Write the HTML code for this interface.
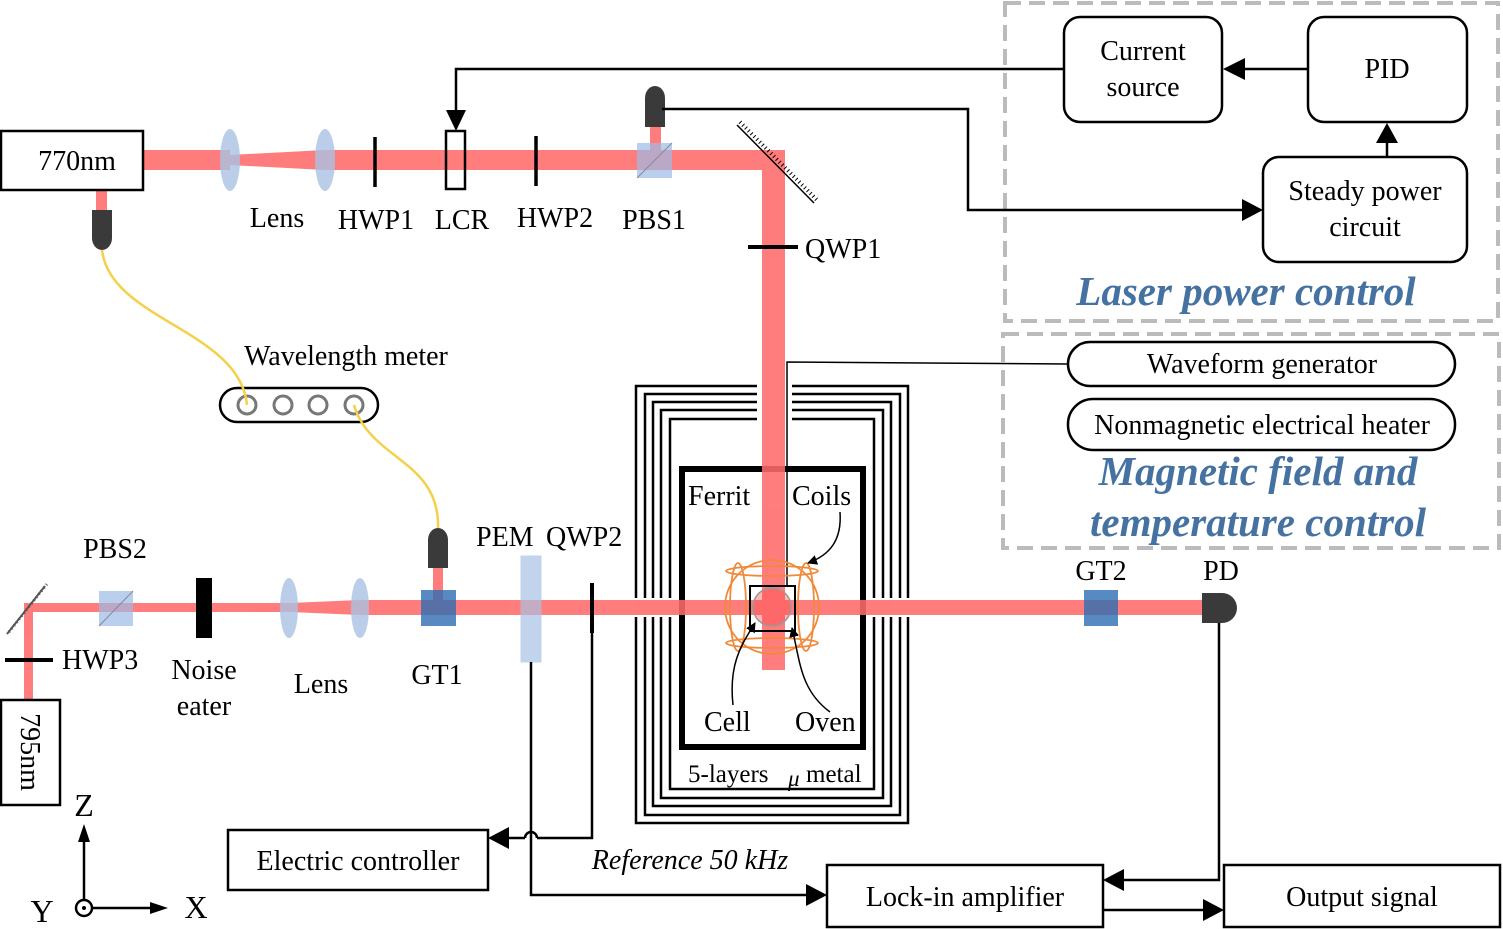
<!DOCTYPE html>
<html><head><meta charset="utf-8"><style>
html,body{margin:0;padding:0;background:#fff;}
svg{display:block;}
text{font-family:"Liberation Serif","Times New Roman",serif;fill:#000;}
</style></head><body>
<svg width="1503" height="929" viewBox="0 0 1503 929" xmlns="http://www.w3.org/2000/svg" font-family="Liberation Serif, serif">
<defs>
<marker id="ar" markerWidth="10" markerHeight="10" refX="9" refY="5" orient="auto" markerUnits="userSpaceOnUse"><path d="M0,0 L10,5 L0,10 z" fill="#000"/></marker>
</defs>

<rect x="1005" y="3" width="493" height="318" fill="none" stroke="#bbb" stroke-width="4" stroke-dasharray="16,8"/>
<rect x="1003" y="334" width="496" height="214" fill="none" stroke="#bbb" stroke-width="4" stroke-dasharray="16,8"/>

<g fill="none" stroke="#000" stroke-width="2.5">
<path d="M757,386 H636 V598 M636,617 V823 H908 V617 M908,598 V386 H792"/>
<path d="M757,394 H645 V598 M645,617 V815 H900 V617 M900,598 V394 H792"/>
<path d="M757,402 H653 V598 M653,617 V806 H891 V617 M891,598 V402 H792"/>
<path d="M757,410 H661 V598 M661,617 V798 H883 V617 M883,598 V410 H792"/>
<path d="M757,419 H670 V598 M670,617 V789 H874 V617 M874,598 V419 H792"/>
</g>
<rect x="682" y="469" width="181" height="278" fill="none" stroke="#000" stroke-width="6"/>

<g fill="#ff6b6b" opacity="0.88">
<rect x="143" y="150" width="87" height="20"/>
<polygon points="230,155 325,150 325,170 230,165"/>
<rect x="325" y="150" width="460" height="20"/>
<rect x="762" y="150" width="23" height="520"/>
<rect x="650" y="125" width="11" height="25"/>
<rect x="96" y="190" width="11" height="20"/>
<rect x="24" y="603" width="266" height="9"/>
<polygon points="290,603 360,600 360,615 290,612"/>
<rect x="360" y="600" width="850" height="15"/>
<rect x="24" y="607" width="9" height="93"/>
<rect x="433" y="565" width="10" height="35"/>
</g>

<rect x="1" y="131" width="142" height="59" fill="#fff" stroke="#000" stroke-width="2.5"/>
<text x="77" y="170" font-size="28" text-anchor="middle">770nm</text>
<ellipse cx="230" cy="160" rx="10" ry="31" fill="#a9c2e3" opacity="0.8"/>
<ellipse cx="325" cy="160" rx="10" ry="31" fill="#a9c2e3" opacity="0.8"/>
<line x1="375" y1="137" x2="375" y2="187" stroke="#000" stroke-width="3.5"/>
<rect x="446" y="131" width="19" height="58" fill="none" stroke="#000" stroke-width="2.5"/>
<line x1="536" y1="136" x2="536" y2="186" stroke="#000" stroke-width="3.5"/>
<rect x="637" y="143" width="35" height="35" fill="#9dbbe6" opacity="0.7"/>
<line x1="637" y1="178" x2="672" y2="143" stroke="#889" stroke-width="1"/>
<line x1="737" y1="125" x2="814" y2="203" stroke="#000" stroke-width="1.5"/>
<line x1="737" y1="125" x2="814" y2="203" stroke="#000" stroke-width="4" stroke-dasharray="1,3" transform="translate(3,-3)"/>
<line x1="748" y1="247" x2="798" y2="247" stroke="#000" stroke-width="4"/>
<path d="M645,127 V98 A10,12 0 0 1 665,98 V127 Z" fill="#3a3a3a"/>
<path d="M92,210 V238 A10,12 0 0 0 112,238 V210 Z" fill="#3a3a3a"/>
<path d="M428,568 V540 A10,12 0 0 1 448,540 V568 Z" fill="#3a3a3a"/>

<g font-size="28">
<text x="277" y="227" text-anchor="middle">Lens</text>
<text x="376" y="229" text-anchor="middle">HWP1</text>
<text x="462" y="229" text-anchor="middle">LCR</text>
<text x="555" y="227" text-anchor="middle">HWP2</text>
<text x="654" y="229" text-anchor="middle">PBS1</text>
<text x="805" y="258">QWP1</text>
<text x="346" y="365" text-anchor="middle">Wavelength meter</text>
</g>

<rect x="220" y="388" width="158" height="34" rx="17" fill="#fff" stroke="#000" stroke-width="2.5"/>
<g fill="none" stroke="#777" stroke-width="3">
<circle cx="247" cy="405" r="9"/><circle cx="283" cy="405" r="9"/><circle cx="318" cy="405" r="9"/><circle cx="354" cy="405" r="9"/>
</g>
<path d="M102,250 C110,320 240,330 247,405" fill="none" stroke="#f5d04a" stroke-width="2.5"/>
<path d="M354,405 C370,460 440,460 438,528" fill="none" stroke="#f5d04a" stroke-width="2.5"/>

<g fill="none" stroke="#000" stroke-width="2.5">
<polyline points="1064,69 456,69 456,112" />
<line x1="1308" y1="69" x2="1244" y2="69"/>
<line x1="1387" y1="157" x2="1387" y2="142"/>
<polyline points="662,109 968,109 968,210 1243,210"/>
</g>
<path d="M446,110 L466,110 L456,131 Z" fill="#000"/>
<path d="M1245,58 L1245,80 L1223,69 Z" fill="#000"/>
<path d="M1376,143 L1398,143 L1387,123 Z" fill="#000"/>
<path d="M1242,199 L1242,221 L1263,210 Z" fill="#000"/>

<rect x="1064" y="17" width="158" height="105" rx="16" fill="#fff" stroke="#000" stroke-width="2.5"/>
<text x="1143" y="60" font-size="28" text-anchor="middle">Current</text>
<text x="1143" y="96" font-size="28" text-anchor="middle">source</text>
<rect x="1308" y="17" width="159" height="105" rx="16" fill="#fff" stroke="#000" stroke-width="2.5"/>
<text x="1387" y="78" font-size="28" text-anchor="middle">PID</text>
<rect x="1263" y="157" width="204" height="105" rx="16" fill="#fff" stroke="#000" stroke-width="2.5"/>
<text x="1365" y="200" font-size="28" text-anchor="middle">Steady power</text>
<text x="1365" y="236" font-size="28" text-anchor="middle">circuit</text>
<text x="1246" y="305" font-size="41" font-weight="bold" font-style="italic" text-anchor="middle" style="fill:#4672a2">Laser power control</text>

<rect x="1068" y="342" width="387" height="44" rx="22" fill="#fff" stroke="#000" stroke-width="2.5"/>
<text x="1262" y="373" font-size="28" text-anchor="middle">Waveform generator</text>
<rect x="1068" y="399" width="387" height="51" rx="25" fill="#fff" stroke="#000" stroke-width="2.5"/>
<text x="1262" y="434" font-size="28" text-anchor="middle">Nonmagnetic electrical heater</text>
<text x="1258" y="485" font-size="41" font-weight="bold" font-style="italic" text-anchor="middle" style="fill:#4672a2">Magnetic field and</text>
<text x="1258" y="536" font-size="41" font-weight="bold" font-style="italic" text-anchor="middle" style="fill:#4672a2">temperature control</text>

<polyline points="1068,364 787,362 787,586" fill="none" stroke="#000" stroke-width="1.5"/>

<g fill="none" stroke="#f08a3a" stroke-width="1.8">
<circle cx="772" cy="607" r="47"/>
<ellipse cx="738" cy="607" rx="8" ry="44"/>
<ellipse cx="806" cy="607" rx="8" ry="44"/>
<ellipse cx="772" cy="571" rx="46" ry="5"/>
<ellipse cx="772" cy="643" rx="46" ry="5"/>
</g>
<rect x="750" y="586" width="45" height="45" fill="none" stroke="#000" stroke-width="2"/>
<circle cx="772" cy="607" r="19" fill="#ff4a4a" fill-opacity="0.4" stroke="#999" stroke-width="1.5"/>
<g fill="none" stroke="#000" stroke-width="1.5">
<path d="M733,705 C728,660 745,640 755,623" marker-end="url(#ar)"/>
<path d="M830,712 C800,690 800,660 792,628" marker-end="url(#ar)"/>
<path d="M840,512 C842,540 830,555 808,563" marker-end="url(#ar)"/>
</g>
<g font-size="28">
<text x="688" y="505">Ferrit</text>
<text x="792" y="505">Coils</text>
<text x="704" y="731">Cell</text>
<text x="795" y="731">Oven</text>
<text x="688" y="782" font-size="25">5-layers</text>
<text x="788" y="786" font-size="23" font-style="italic">μ</text>
<text x="806" y="782" font-size="25">metal</text>
</g>

<rect x="1" y="700" width="59" height="105" fill="#fff" stroke="#000" stroke-width="2.5"/>
<text x="30" y="752" font-size="28" text-anchor="middle" transform="rotate(90 30 752)" dy="9">795nm</text>
<line x1="5" y1="660" x2="53" y2="660" stroke="#000" stroke-width="4"/>
<line x1="7" y1="634" x2="45" y2="586" stroke="#555" stroke-width="2"/>
<line x1="7" y1="634" x2="45" y2="586" stroke="#555" stroke-width="3" stroke-dasharray="1,3" transform="translate(2,-2)"/>
<rect x="99" y="591" width="34" height="35" fill="#9dbbe6" opacity="0.7"/>
<line x1="99" y1="626" x2="133" y2="591" stroke="#889" stroke-width="1"/>
<rect x="196" y="578" width="16" height="60" fill="#000"/>
<ellipse cx="289" cy="608" rx="9" ry="30" fill="#a9c2e3" opacity="0.8"/>
<ellipse cx="360" cy="608" rx="9" ry="30" fill="#a9c2e3" opacity="0.8"/>
<rect x="421" y="590" width="35" height="36" fill="#2e6db3" opacity="0.8"/>
<rect x="521" y="556" width="20" height="106" fill="#a9c2e3" opacity="0.7" stroke="#a9c2e3"/>
<line x1="592" y1="583" x2="592" y2="633" stroke="#000" stroke-width="4"/>
<rect x="1084" y="590" width="34" height="36" fill="#2e6db3" opacity="0.8"/>
<path d="M1202,593 H1222 A15,15 0 0 1 1222,623 H1202 Z" fill="#3a3a3a"/>

<g font-size="28">
<text x="115" y="558" text-anchor="middle">PBS2</text>
<text x="62" y="669">HWP3</text>
<text x="204" y="679" text-anchor="middle">Noise</text>
<text x="204" y="715" text-anchor="middle">eater</text>
<text x="321" y="693" text-anchor="middle">Lens</text>
<text x="437" y="684" text-anchor="middle">GT1</text>
<text x="476" y="546">PEM</text>
<text x="546" y="546">QWP2</text>
<text x="1101" y="580" text-anchor="middle">GT2</text>
<text x="1221" y="580" text-anchor="middle">PD</text>
</g>

<g fill="none" stroke="#000" stroke-width="2.5">
<polyline points="592,633 592,838 537,838"/>
<path d="M537,838 A6,6 0 0 0 525,838"/>
<line x1="525" y1="838" x2="508" y2="838"/>
<polyline points="531,662 531,895 806,895"/>
<polyline points="1219,623 1219,880 1124,880"/>
<line x1="1103" y1="910" x2="1203" y2="910"/>
</g>
<path d="M509,827 L509,849 L488,838 Z" fill="#000"/>
<path d="M806,884 L806,906 L827,895 Z" fill="#000"/>
<path d="M1124,869 L1124,891 L1103,880 Z" fill="#000"/>
<path d="M1203,899 L1203,921 L1224,910 Z" fill="#000"/>

<rect x="228" y="830" width="260" height="60" fill="#fff" stroke="#000" stroke-width="2.5"/>
<text x="358" y="870" font-size="28" text-anchor="middle">Electric controller</text>
<text x="690" y="869" font-size="28" font-style="italic" text-anchor="middle">Reference 50 kHz</text>
<rect x="827" y="865" width="276" height="62" fill="#fff" stroke="#000" stroke-width="2.5"/>
<text x="965" y="906" font-size="28" text-anchor="middle">Lock-in amplifier</text>
<rect x="1224" y="865" width="276" height="62" fill="#fff" stroke="#000" stroke-width="2.5"/>
<text x="1362" y="906" font-size="28" text-anchor="middle">Output signal</text>

<line x1="84" y1="900" x2="84" y2="840" stroke="#000" stroke-width="2.5"/>
<path d="M78,842 L90,842 L84,824 Z" fill="#000"/>
<line x1="92" y1="908" x2="152" y2="908" stroke="#000" stroke-width="2.5"/>
<path d="M150,902 L150,914 L168,908 Z" fill="#000"/>
<circle cx="84" cy="908" r="8" fill="#fff" stroke="#000" stroke-width="2.5"/>
<circle cx="84" cy="908" r="2" fill="#000"/>
<text x="84" y="816" font-size="32" text-anchor="middle">Z</text>
<text x="196" y="918" font-size="32" text-anchor="middle">X</text>
<text x="42" y="922" font-size="32" text-anchor="middle">Y</text>
</svg>
</body></html>
